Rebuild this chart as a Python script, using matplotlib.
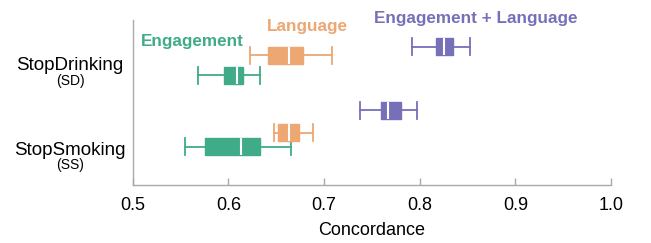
import matplotlib
matplotlib.use("Agg")
import matplotlib.pyplot as plt

plt.rcParams['font.family'] = ['Liberation Sans', 'DejaVu Sans']

# five-number summaries: low whisker, q1, median, q3, high whisker
tasks = ["StopDrinking", "StopSmoking"]
abbrevs = ["(SD)", "(SS)"]
models = ["Engagement", "Language", "Engagement + Language"]
colors = ["#40ab89", "#eca773", "#7670b9"]

engagement = [[0.568, 0.595, 0.609, 0.615, 0.633],
              [0.555, 0.576, 0.613, 0.633, 0.666]]
language = [[0.623, 0.641, 0.663, 0.678, 0.708],
            [0.648, 0.652, 0.663, 0.674, 0.689]]
eng_lang = [[0.792, 0.817, 0.825, 0.835, 0.853],
            [0.738, 0.760, 0.767, 0.780, 0.797]]

# vertical placement of each box (per model, per task)
positions = {
    "Engagement": [109.2, 37.8],
    "Language": [129.2, 51.8],
    "Engagement + Language": [137.8, 74.5],
}
label_pos = [(0.562, 138.5), (0.6826, 153.8), (0.8587, 161.2)]
task_y = [114.5, 29.5]
abbrev_y = [100.0, 16.0]


def make_stats(rows):
    stats = []
    for lo, q1, med, q3, hi in rows:
        stats.append(dict(whislo=lo, q1=q1, med=med, q3=q3, whishi=hi, fliers=[]))
    return stats


fig = plt.figure(figsize=(6.51, 2.43), dpi=100)
ax = fig.add_axes([0.2038, 0.2407, 0.7348, 0.677])

for name, rows, col in zip(models, [engagement, language, eng_lang], colors):
    ax.bxp(make_stats(rows), positions=positions[name], widths=17, capwidths=17,
           orientation='horizontal', patch_artist=True, showfliers=False,
           boxprops=dict(facecolor=col, edgecolor=col, linewidth=1),
           whiskerprops=dict(color=col, linewidth=1.3),
           capprops=dict(color=col, linewidth=1.3),
           medianprops=dict(color='white', linewidth=1.5))

for name, (x, y), col in zip(models, label_pos, colors):
    ax.text(x, y, name, color=col, fontsize=12.3, fontweight='bold',
            ha='center', va='baseline', clip_on=False)

tr = ax.get_yaxis_transform()
for t, a, ty, ay in zip(tasks, abbrevs, task_y, abbrev_y):
    ax.text(-0.131, ty, t, transform=tr, fontsize=13.5, ha='center', va='baseline')
    ax.text(-0.131, ay, a, transform=tr, fontsize=10, ha='center', va='baseline')

ax.set_xlim(0.5, 1.0)
ax.set_ylim(0, 164.5)
ax.set_xticks([0.5, 0.6, 0.7, 0.8, 0.9, 1.0])
ax.set_xticklabels(["0.5", "0.6", "0.7", "0.8", "0.9", "1.0"])
ax.set_yticks([])
ax.tick_params(axis='x', direction='in', length=5, width=1, color='#aaaaaa',
               labelsize=13, pad=9)
ax.set_xlabel("Concordance", fontsize=13, labelpad=6)

for s in ["top", "right"]:
    ax.spines[s].set_visible(False)
for s in ["left", "bottom"]:
    ax.spines[s].set_color('#aaaaaa')
    ax.spines[s].set_linewidth(1)

fig.savefig("out.png", dpi=100)
